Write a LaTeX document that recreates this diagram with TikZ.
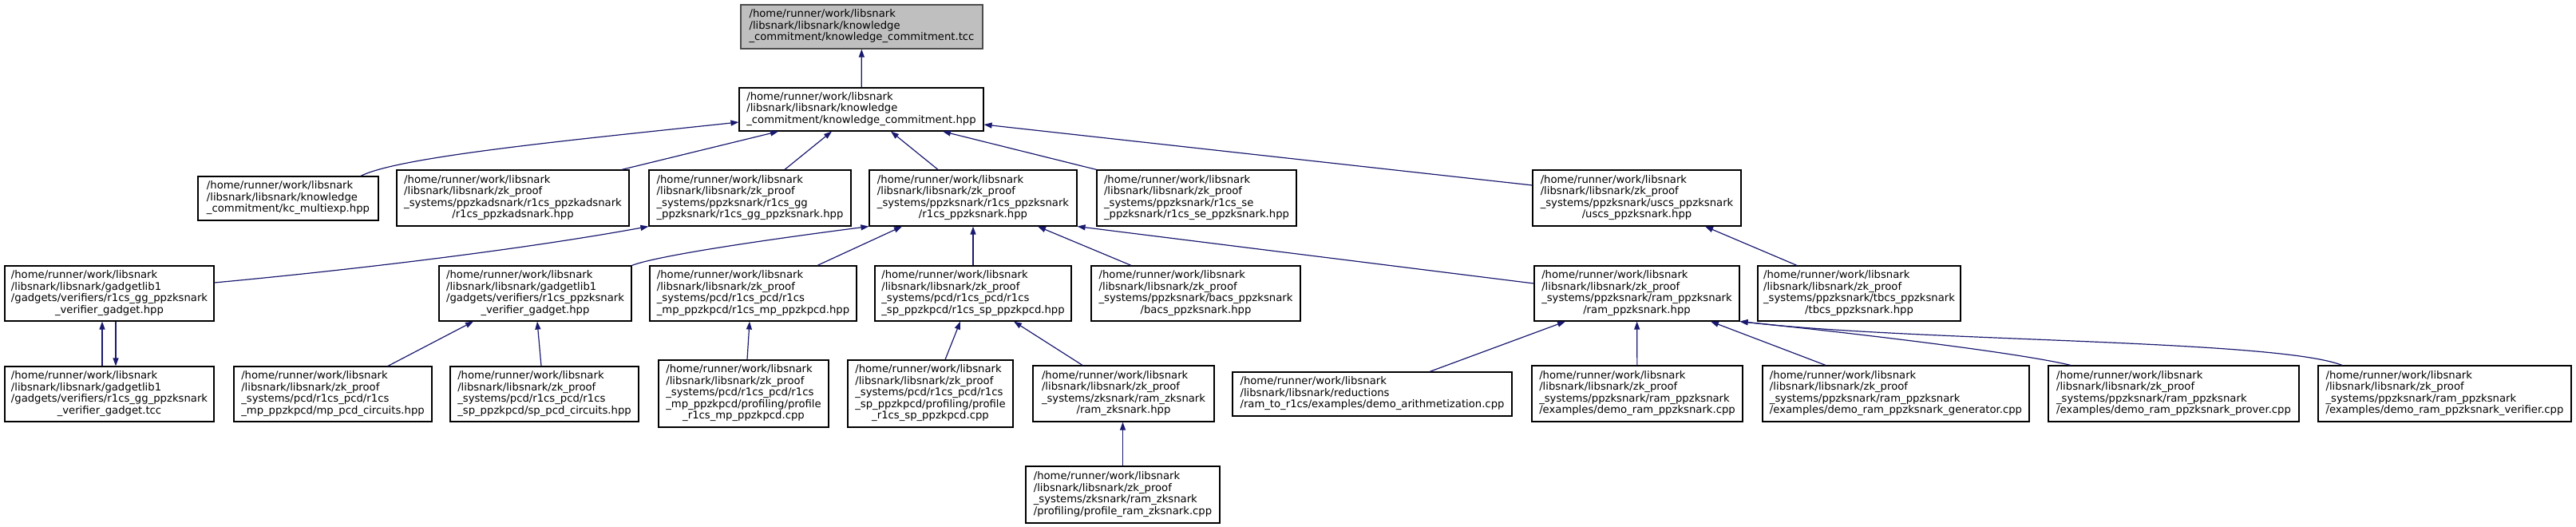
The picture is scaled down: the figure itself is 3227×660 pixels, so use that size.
\documentclass[tikz,border=0pt]{standalone}
\usepackage{fontspec}
\setmainfont{DejaVu Sans}
\usetikzlibrary{arrows.meta}
\definecolor{edgeblue}{HTML}{191970}
\definecolor{rootgray}{HTML}{BFBFBF}
\tikzset{every picture/.style={line width=1.2pt}}
\tikzset{incbox/.style 2 args={draw, fill=white, inner sep=1pt, minimum width=#1, minimum height=#2}}
% label: all lines left, last line centred
\newcommand{\flbl}[2]{\begin{tabular}{@{}l@{}}#1\\\multicolumn{1}{@{}c@{}}{#2}\end{tabular}}
\newcommand{\zkp}{/home/runner/work/libsnark\\/libsnark/libsnark/zk\_proof}
\newcommand{\glib}{/home/runner/work/libsnark\\/libsnark/libsnark/gadgetlib1}

\begin{document}
\begin{tikzpicture}[x=1pt, y=-1pt, >={Triangle[length=10pt,width=7pt]}, every node/.style={font=\fontsize{13.2}{14.5}\selectfont}]
        \useasboundingbox (0,0) rectangle (3227,660);
        % top
        \node[incbox={303}{55}, fill=rootgray, draw=black!70] (tcc) at (1079.5, 33.5) {\flbl{/home/runner/work/libsnark\\/libsnark/libsnark/knowledge}{\_commitment/knowledge\_commitment.tcc}};
        \node[incbox={306}{54}] (hpp) at (1079, 137) {\flbl{/home/runner/work/libsnark\\/libsnark/libsnark/knowledge}{\_commitment/knowledge\_commitment.hpp}};
        % row 2
        \node[incbox={226}{55}] (kcmulti)   at (361, 248.5) {\flbl{/home/runner/work/libsnark\\/libsnark/libsnark/knowledge}{\_commitment/kc\_multiexp.hpp}};
        \node[incbox={291}{70}] (adsnark)   at (642.5, 248) {\flbl{\zkp\\\_systems/ppzkadsnark/r1cs\_ppzkadsnark}{/r1cs\_ppzkadsnark.hpp}};
        \node[incbox={253}{70}] (ggsnark)   at (939.5, 248) {\flbl{\zkp\\\_systems/ppzksnark/r1cs\_gg}{\_ppzksnark/r1cs\_gg\_ppzksnark.hpp}};
        \node[incbox={260}{70}] (ppzksnark) at (1219, 248)  {\flbl{\zkp\\\_systems/ppzksnark/r1cs\_ppzksnark}{/r1cs\_ppzksnark.hpp}};
        \node[incbox={250}{70}] (sesnark)   at (1499, 248)  {\flbl{\zkp\\\_systems/ppzksnark/r1cs\_se}{\_ppzksnark/r1cs\_se\_ppzksnark.hpp}};
        \node[incbox={261}{70}] (uscs)      at (2050.5, 248) {\flbl{\zkp\\\_systems/ppzksnark/uscs\_ppzksnark}{/uscs\_ppzksnark.hpp}};
        % row 3
        \node[incbox={262}{69}] (ggverif) at (137, 367.5)    {\flbl{\glib\\/gadgets/verifiers/r1cs\_gg\_ppzksnark}{\_verifier\_gadget.hpp}};
        \node[incbox={241}{69}] (verif)   at (670.5, 367.5)  {\flbl{\glib\\/gadgets/verifiers/r1cs\_ppzksnark}{\_verifier\_gadget.hpp}};
        \node[incbox={259}{69}] (mppcd)   at (943.5, 367.5)  {\flbl{\zkp\\\_systems/pcd/r1cs\_pcd/r1cs}{\_mp\_ppzkpcd/r1cs\_mp\_ppzkpcd.hpp}};
        \node[incbox={246}{69}] (sppcd)   at (1219, 367.5)   {\flbl{\zkp\\\_systems/pcd/r1cs\_pcd/r1cs}{\_sp\_ppzkpcd/r1cs\_sp\_ppzkpcd.hpp}};
        \node[incbox={262}{69}] (bacs)    at (1498, 367.5)   {\flbl{\zkp\\\_systems/ppzksnark/bacs\_ppzksnark}{/bacs\_ppzksnark.hpp}};
        \node[incbox={257}{69}] (ram)     at (2050.5, 367.5) {\flbl{\zkp\\\_systems/ppzksnark/ram\_ppzksnark}{/ram\_ppzksnark.hpp}};
        \node[incbox={254}{69}] (tbcs)    at (2329, 367.5)   {\flbl{\zkp\\\_systems/ppzksnark/tbcs\_ppzksnark}{/tbcs\_ppzksnark.hpp}};
        % row 4
        \node[incbox={262}{69}] (ggtcc)    at (137, 493.5)  {\flbl{\glib\\/gadgets/verifiers/r1cs\_gg\_ppzksnark}{\_verifier\_gadget.tcc}};
        \node[incbox={248}{69}] (mpcirc)   at (417, 493.5)  {\flbl{\zkp\\\_systems/pcd/r1cs\_pcd/r1cs}{\_mp\_ppzkpcd/mp\_pcd\_circuits.hpp}};
        \node[incbox={236}{69}] (spcirc)   at (682, 493.5)  {\flbl{\zkp\\\_systems/pcd/r1cs\_pcd/r1cs}{\_sp\_ppzkpcd/sp\_pcd\_circuits.hpp}};
        \node[incbox={213}{84}] (mpprof)   at (931.5, 493)  {\flbl{\zkp\\\_systems/pcd/r1cs\_pcd/r1cs\\\_mp\_ppzkpcd/profiling/profile}{\_r1cs\_mp\_ppzkpcd.cpp}};
        \node[incbox={207}{84}] (spprof)   at (1165.5, 493) {\flbl{\zkp\\\_systems/pcd/r1cs\_pcd/r1cs\\\_sp\_ppzkpcd/profiling/profile}{\_r1cs\_sp\_ppzkpcd.cpp}};
        \node[incbox={227}{70}] (zksnark)  at (1407.5, 493) {\flbl{\zkp\\\_systems/zksnark/ram\_zksnark}{/ram\_zksnark.hpp}};
        \node[incbox={350}{55}] (arith)    at (1719, 493.5) {\flbl{/home/runner/work/libsnark\\/libsnark/libsnark/reductions}{/ram\_to\_r1cs/examples/demo\_arithmetization.cpp}};
        \node[incbox={264}{70}] (demoram)  at (2051, 493)   {\flbl{\zkp\\\_systems/ppzksnark/ram\_ppzksnark}{/examples/demo\_ram\_ppzksnark.cpp}};
        \node[incbox={334}{70}] (gen)      at (2375, 493)   {\flbl{\zkp\\\_systems/ppzksnark/ram\_ppzksnark}{/examples/demo\_ram\_ppzksnark\_generator.cpp}};
        \node[incbox={314}{70}] (prover)   at (2723, 493)   {\flbl{\zkp\\\_systems/ppzksnark/ram\_ppzksnark}{/examples/demo\_ram\_ppzksnark\_prover.cpp}};
        \node[incbox={317}{70}] (verifier) at (3062.5, 493) {\flbl{\zkp\\\_systems/ppzksnark/ram\_ppzksnark}{/examples/demo\_ram\_ppzksnark\_verifier.cpp}};
        % row 5
        \node[incbox={243}{71}] (profzk) at (1406.5, 619.5) {\flbl{\zkp\\\_systems/zksnark/ram\_zksnark}{/profiling/profile\_ram\_zksnark.cpp}};
        % includes
        \begin{scope}[->, edgeblue]
        \draw (hpp) -- (tcc);
        \draw ([xshift=91pt]kcmulti.north) .. controls (500,196) and (720,175) .. ([yshift=-16pt]hpp.west);
        \draw ([xshift=136.5pt]adsnark.north) -- ([xshift=-104pt]hpp.south);
        \draw ([xshift=43.5pt]ggsnark.north) -- ([xshift=-37pt]hpp.south);
        \draw ([xshift=-44pt]ppzksnark.north) -- ([xshift=37pt]hpp.south);
        \draw (sesnark.north west) -- ([xshift=102pt]hpp.south);
        \draw ([yshift=16pt]uscs.west) -- ([yshift=-19pt]hpp.east);
        \draw ([yshift=13.5pt]ggverif.east) .. controls (420,340) and (640,315) .. (ggsnark.south west);
        \draw ([xshift=-9pt]ggtcc.north) -- ([xshift=-9pt]ggverif.south);
        \draw ([xshift=8pt]ggverif.south) -- ([xshift=8pt]ggtcc.north);
        \draw (verif.north east) .. controls (830,318) and (1000,295) .. (ppzksnark.south west);
        \draw ([xshift=80.5pt]mppcd.north) -- ([xshift=-89pt]ppzksnark.south);
        \draw (sppcd) -- (ppzksnark);
        \draw ([xshift=-81pt]bacs.north) -- ([xshift=81pt]ppzksnark.south);
        \draw ([yshift=12.5pt]ram.west) -- (ppzksnark.south east);
        \draw ([xshift=-78pt]tbcs.north) -- ([xshift=85.5pt]uscs.south);
        \draw ([xshift=69pt]mpcirc.north) -- ([xshift=-77.5pt]verif.south);
        \draw ([xshift=-4pt]spcirc.north) -- ([xshift=2.5pt]verif.south);
        \draw ([xshift=4.5pt]mpprof.north) -- ([xshift=-4.5pt]mppcd.south);
        \draw ([xshift=18.5pt]spprof.north) -- ([xshift=-16pt]sppcd.south);
        \draw ([xshift=-51.5pt]zksnark.north) -- ([xshift=51pt]sppcd.south);
        \draw (profzk.north) -- (profzk.north |- zksnark.south);
        \draw ([xshift=72pt]arith.north) -- ([xshift=-89.5pt]ram.south);
        \draw (demoram) -- (ram);
        \draw ([xshift=-88pt]gen.north) -- ([xshift=92.5pt]ram.south);
        \draw ([xshift=-129pt]prover.north) .. controls (2520,440) and (2300,415) .. (ram.south east);
        \draw ([xshift=-128.5pt]verifier.north) .. controls (2850,425) and (2400,428) .. (ram.south east);
        \end{scope}
    \end{tikzpicture}
\end{document}
